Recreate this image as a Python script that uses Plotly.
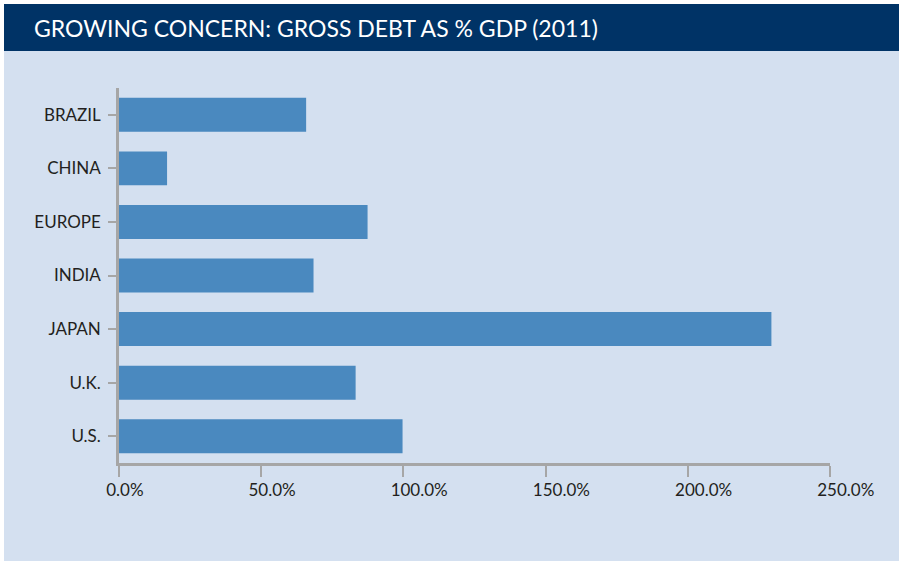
import plotly.graph_objects as go

# Gross government debt as a share of GDP, 2011
countries = ["BRAZIL", "CHINA", "EUROPE", "INDIA", "JAPAN", "U.K.", "U.S."]
debt_pct = [65.8, 16.9, 87.4, 68.4, 229.4, 83.2, 99.7]
x_ticks = [0, 50, 100, 150, 200, 250]
x_tick_labels = [f"{v:.1f}%" for v in x_ticks]
title_text = "GROWING CONCERN: GROSS DEBT AS % GDP (2011)"

W, H = 899, 563
M_L, M_R, M_T, M_B = 119, 69, 88, 100
PW, PH = W - M_L - M_R, H - M_T - M_B

NAVY = "#003366"
PANEL = "#D4E0F0"
BAR = "#4A89BF"
AXIS = "#A6A6A6"
INK = "#231F20"
FONT = "Lato, 'Open Sans', sans-serif"


def px_to_paper_x(px):
    return (px - M_L) / PW


def px_to_paper_y(py):
    return (H - M_B - py) / PH


fig = go.Figure(
    go.Bar(
        x=debt_pct,
        y=countries,
        orientation="h",
        marker=dict(color=BAR, line=dict(width=0)),
        hovertemplate="%{y}: %{x:.1f}%<extra></extra>",
    )
)

# light panel and dark header band behind the chart
fig.add_shape(
    type="rect", xref="paper", yref="paper", layer="below",
    x0=px_to_paper_x(4), x1=px_to_paper_x(W),
    y0=px_to_paper_y(561), y1=px_to_paper_y(4),
    fillcolor=PANEL, line=dict(width=0),
)
fig.add_shape(
    type="rect", xref="paper", yref="paper", layer="below",
    x0=px_to_paper_x(4), x1=px_to_paper_x(W),
    y0=px_to_paper_y(51), y1=px_to_paper_y(4),
    fillcolor=NAVY, line=dict(width=0),
)

fig.update_layout(
    width=W,
    height=H,
    margin=dict(l=M_L, r=M_R, t=M_T, b=M_B, pad=0),
    paper_bgcolor="white",
    plot_bgcolor="rgba(0,0,0,0)",
    showlegend=False,
    bargap=0.366,
    font=dict(family=FONT, size=17, color=INK),
    title=dict(
        text=title_text,
        x=34 / W, xanchor="left", xref="container",
        y=1 - 29 / H, yanchor="middle", yref="container",
        font=dict(family=FONT, size=23, color="white"),
    ),
    xaxis=dict(
        range=[0, 250],
        tickvals=x_ticks,
        ticktext=x_tick_labels,
        showgrid=False,
        zeroline=False,
        showline=True,
        linecolor=AXIS,
        linewidth=2.5,
        ticks="outside",
        ticklen=11,
        tickwidth=2,
        tickcolor=AXIS,
        ticklabelposition="outside right",
        ticklabelshift=-15,
        ticklabelstandoff=10,
        tickfont=dict(family=FONT, size=17, color=INK),
        fixedrange=True,
    ),
    yaxis=dict(
        type="category",
        categoryorder="array",
        categoryarray=countries,
        range=[len(countries) - 0.5, -0.5],
        showgrid=False,
        zeroline=False,
        showline=True,
        linecolor=AXIS,
        linewidth=2.5,
        ticks="outside",
        ticklen=8,
        tickwidth=2,
        tickcolor=AXIS,
        ticklabelstandoff=4,
        tickfont=dict(family=FONT, size=17, color=INK),
        fixedrange=True,
    ),
)

fig.write_html("out.html", config={"displayModeBar": False})
